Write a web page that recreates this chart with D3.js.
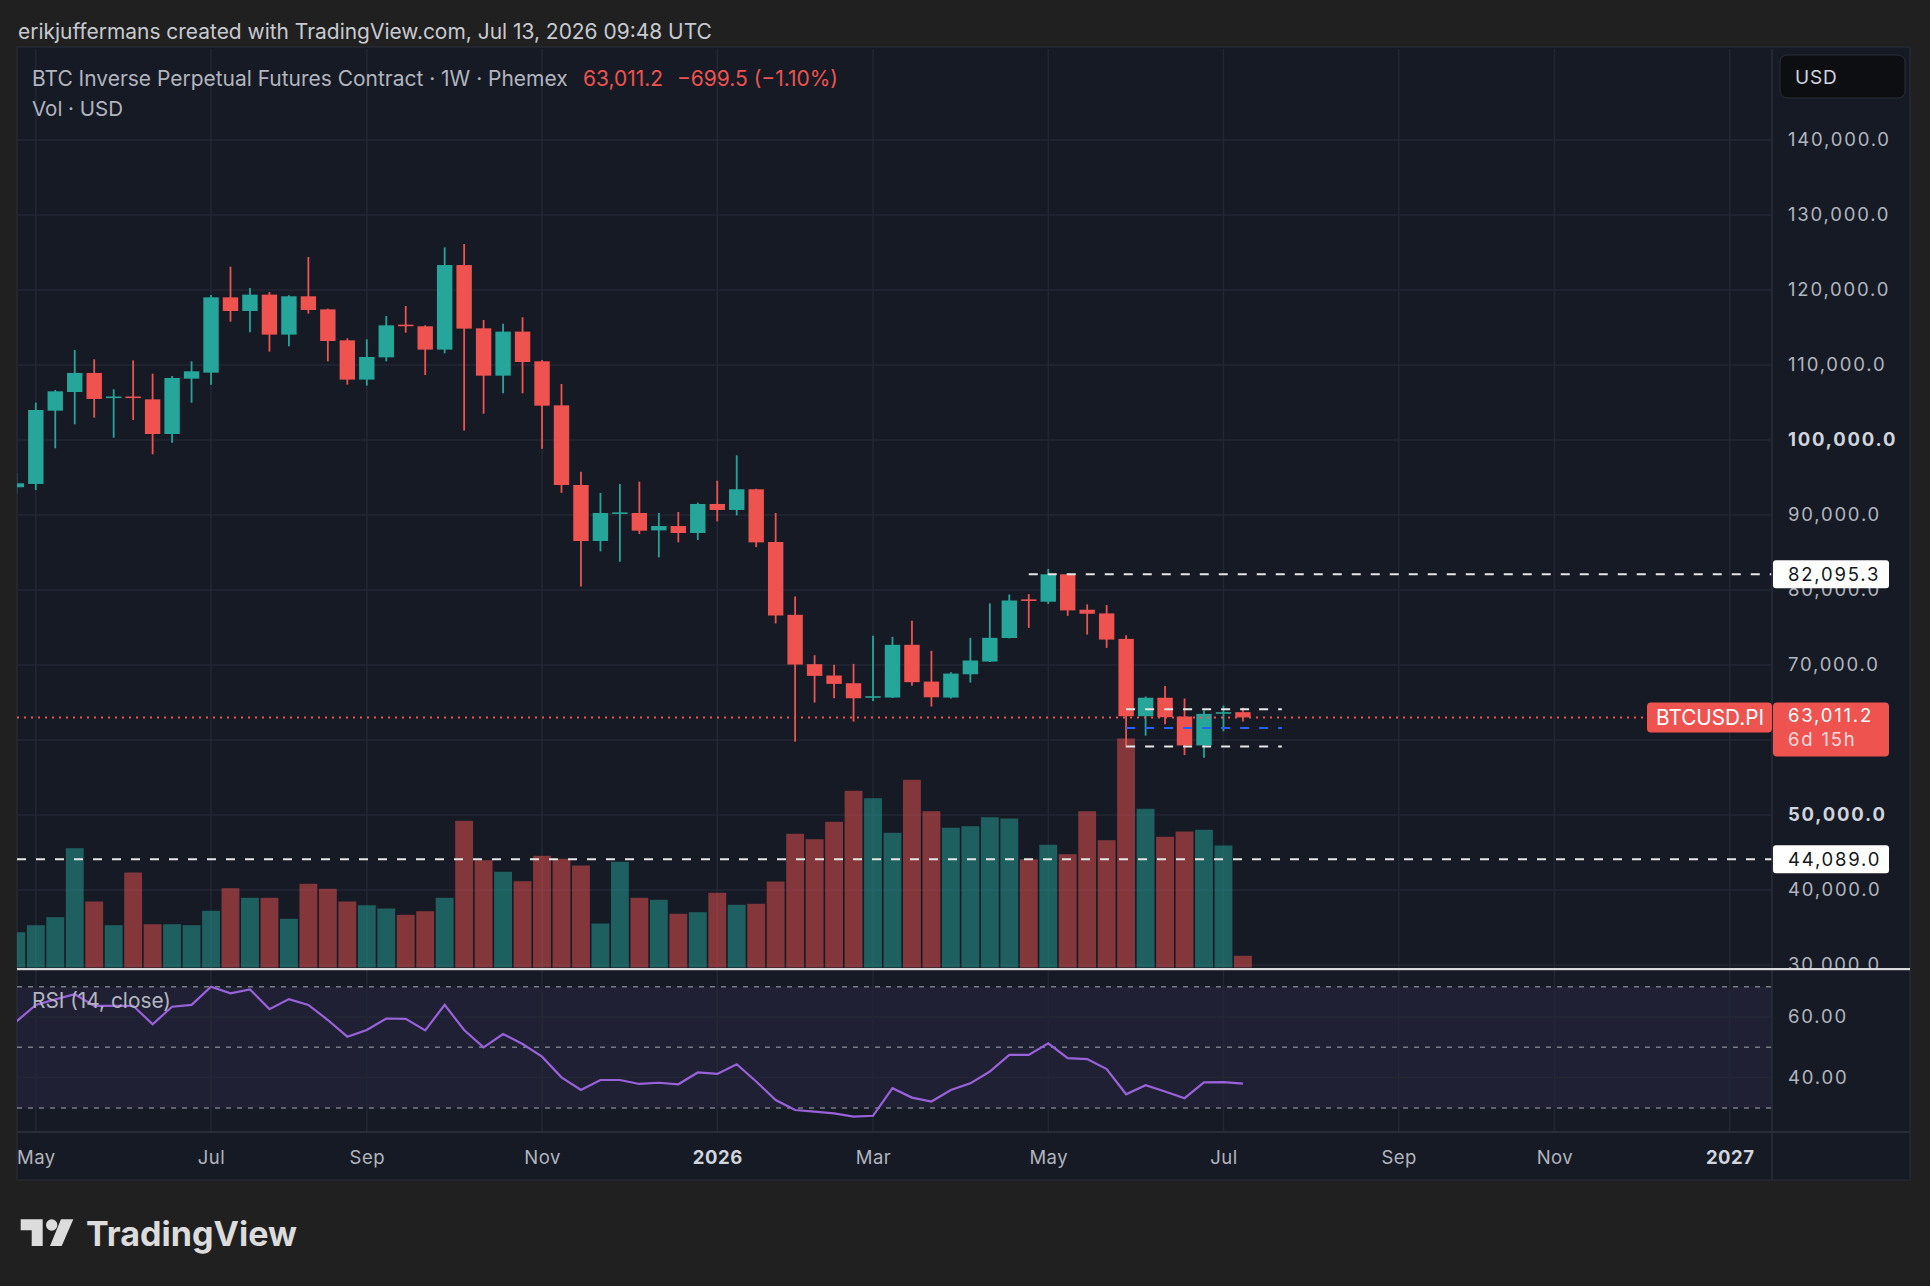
<!DOCTYPE html>
<html lang="en">
<head>
<meta charset="UTF-8">
<script src="https://d3js.org/d3.v7.min.js"></script>
<title>BTCUSD.PI 1W</title>
<style>
  html, body { margin: 0; padding: 0; background: #202020; }
  svg { display: block; }
  text { font-family: Inter, "Noto Sans", sans-serif; }
</style>
</head>
<body>
<script>
const W = 1930, H = 1286;

// weekly bars, Monday open
const weeks = [
  "2025-04-28","2025-05-05","2025-05-12","2025-05-19","2025-05-26","2025-06-02","2025-06-09","2025-06-16",
  "2025-06-23","2025-06-30","2025-07-07","2025-07-14","2025-07-21","2025-07-28","2025-08-04","2025-08-11",
  "2025-08-18","2025-08-25","2025-09-01","2025-09-08","2025-09-15","2025-09-22","2025-09-29","2025-10-06",
  "2025-10-13","2025-10-20","2025-10-27","2025-11-03","2025-11-10","2025-11-17","2025-11-24","2025-12-01",
  "2025-12-08","2025-12-15","2025-12-22","2025-12-29","2026-01-05","2026-01-12","2026-01-19","2026-01-26",
  "2026-02-02","2026-02-09","2026-02-16","2026-02-23","2026-03-02","2026-03-09","2026-03-16","2026-03-23",
  "2026-03-30","2026-04-06","2026-04-13","2026-04-20","2026-04-27","2026-05-04","2026-05-11","2026-05-18",
  "2026-05-25","2026-06-01","2026-06-08","2026-06-15","2026-06-22","2026-06-29","2026-07-06","2026-07-13"
];
const open = [93700,94140,103910,106400,108940,105650,105800,105420,100800,108180,108980,119020,117200,119380,114050,119160,
  117420,113290,108050,111020,115380,115160,112050,123330,114890,108580,114450,110490,104620,94000,86530,90250,
  90270,87950,88530,87600,91470,90670,93430,86400,76690,70110,68600,67570,65750,65660,72690,67790,
  65660,68770,70460,73600,78750,78440,82095,77370,76880,73480,63170,65630,63130,59280,63560,63711];
const high = [95600,104980,106670,112000,110760,106760,110620,108850,108540,110490,119330,123110,120270,119730,119290,124400,
  117510,113560,113420,116530,117870,115290,125690,126130,116000,115510,116360,110670,107470,95780,92940,94140,
  94450,90270,90400,91650,94580,97960,93500,90270,79140,71310,70020,70150,73890,73760,75890,71890,
  69040,73620,78210,79400,79460,82810,82180,78080,77990,73970,65800,67190,65540,63930,64600,64290];
const low = [92800,93330,98890,102090,102980,100310,102670,98090,99650,104980,107380,115780,114360,111780,112490,116850,
  110490,107380,107250,110490,114310,108670,111560,101250,103510,106220,106220,98850,92950,80480,85150,83770,
  87460,84350,86350,86660,89150,89950,85730,75540,59780,64990,65570,62450,65210,65600,67220,64460,
  65530,67660,70400,73550,74960,78130,76560,74060,72280,59020,60580,62100,57990,57640,61160,62460];
const close = [94230,104000,106490,108940,105470,105800,105650,100800,108270,109160,119020,117200,119380,114050,119160,117330,
  113200,108050,111070,115290,115250,112050,123330,114850,108580,114450,110400,104580,94000,86530,90270,90350,
  87910,88530,87600,91470,90670,93430,86350,76600,70060,68550,67480,65570,65840,72690,67710,65700,
  68860,70600,73620,78600,78570,82095,77280,76830,73390,63170,65630,63040,59280,63480,63711,63011.2];
const volume = [353,423,503,1193,660,423,950,433,433,423,567,793,697,697,487,837,
  787,660,623,590,527,563,697,1467,1073,957,863,1117,1087,1020,440,1057,
  697,677,537,553,747,627,637,860,1337,1283,1457,1767,1693,1347,1877,1563,
  1397,1413,1503,1490,1083,1227,1133,1563,1273,2290,1587,1307,1360,1377,1220,117];
const rsi = [58.5,64.0,65.8,67.5,63.7,63.7,63.7,57.6,63.4,64.0,70.0,67.8,69.1,62.6,65.9,64.0,
  59.0,53.5,55.7,59.5,59.4,55.6,64.0,55.7,50.0,54.4,51.1,46.9,40.1,35.9,39.2,39.2,
  37.9,38.3,37.8,41.7,41.2,44.4,38.7,32.6,29.3,28.8,28.2,27.1,27.4,36.5,33.4,32.1,
  35.9,38.1,42.0,47.5,47.5,51.3,46.4,46.1,42.8,34.5,37.5,35.4,33.2,38.4,38.5,38.0];

const priceTicks = [30000,40000,50000,60000,70000,80000,90000,100000,110000,120000,130000,140000];
const boldTicks = [50000, 100000];
const monthTicks = ["2025-05-05","2025-07-07","2025-09-01","2025-11-03","2026-01-05","2026-03-02",
  "2026-05-04","2026-07-06","2026-09-07","2026-11-02","2027-01-04"];
const monthLabels = ["May","Jul","Sep","Nov","2026","Mar","May","Jul","Sep","Nov","2027"];
const rsiTicks = [40, 60];
const rsiLevels = [70, 50, 30];

const lastPrice = 63011.2, change = -699.5, changePct = -1.10;
const resistance = 82095.3, support = 44089.0;
const rangeLevels = [64100, 61600, 59150];   // top, mid (blue), bottom
const rangeStart = "2026-06-01", rangeEnd = "2026-07-27", rayStart = "2026-04-27";

// layout
const L = 17, R = 1772, PR = 1910;
const paneTop = 49, paneBot = 968, rsiTop = 970, rsiBot = 1132, axisBot = 1180;
const up = "#26a69a", down = "#ef5350";
const bg = "#161a25", grid = "#232734", txt = "#b2b5be";
const axFont = 18.5, axSpace = 1.8;

const parse = d3.utcParse("%Y-%m-%d");
const bars = weeks.map((w, i) => ({
  date: parse(w), o: open[i], h: high[i], l: low[i], c: close[i], v: volume[i], r: rsi[i]
}));

const step = 19.47;
const x = d3.scaleUtc()
    .domain([parse("2025-05-05"), parse("2027-01-04")])
    .range([35.8, 35.8 + 87 * step]);
const y = d3.scaleLinear().domain([30000, 140000]).range([965, 140]);
const yv = d3.scaleLinear().domain([0, 2290]).range([967.5, 738.5]);
const yr = d3.scaleLinear().domain([30, 70]).range([1107.9, 986.7]);

const svg = d3.select("body").append("svg").attr("width", W).attr("height", H);

const defs = svg.append("defs");
defs.append("clipPath").attr("id", "pane").append("rect")
    .attr("x", L).attr("y", paneTop).attr("width", R - L).attr("height", paneBot - paneTop);
defs.append("clipPath").attr("id", "rpane").append("rect")
    .attr("x", L).attr("y", rsiTop).attr("width", R - L).attr("height", rsiBot - rsiTop);
defs.append("clipPath").attr("id", "paxis").append("rect")
    .attr("x", R).attr("y", paneTop).attr("width", PR - R).attr("height", paneBot - paneTop);

svg.append("rect").attr("width", W).attr("height", H).attr("fill", "#202020");

function fit(sel, w) {
  const n = sel.node(), cur = n.getComputedTextLength();
  sel.attr("font-size", parseFloat(sel.attr("font-size")) * w / cur);
  return sel;
}
fit(svg.append("text").attr("x", 18).attr("y", 39).attr("font-size", 20).attr("fill", "#c8cad0")
    .text("erikjuffermans created with TradingView.com, Jul 13, 2026 09:48 UTC"), 694);

// chart panel
svg.append("rect").attr("x", L).attr("y", paneTop - 2).attr("width", PR - L).attr("height", axisBot - paneTop + 2)
    .attr("fill", bg).attr("stroke", "#2a2e39");

// rsi band
svg.append("rect").attr("x", L).attr("width", R - L)
    .attr("y", yr(70)).attr("height", yr(30) - yr(70))
    .attr("fill", "rgba(126,87,194,0.1)");

// grid
const g = svg.append("g");
g.selectAll(".hg").data(priceTicks).join("line")
    .attr("x1", L).attr("x2", R).attr("y1", d => y(d)).attr("y2", d => y(d))
    .attr("stroke", grid).attr("stroke-width", 1.5);
g.selectAll(".rg").data(rsiTicks).join("line")
    .attr("x1", L).attr("x2", R).attr("y1", d => yr(d)).attr("y2", d => yr(d))
    .attr("stroke", grid).attr("stroke-width", 1.5);
g.selectAll(".vg").data(monthTicks).join("line")
    .attr("x1", d => x(parse(d))).attr("x2", d => x(parse(d)))
    .attr("y1", paneTop).attr("y2", rsiBot)
    .attr("stroke", grid).attr("stroke-width", 1.5);

// volume
const pane = svg.append("g").attr("clip-path", "url(#pane)");
pane.selectAll(".vol").data(bars).join("rect")
    .attr("x", d => x(d.date) - (step - 1.6) / 2).attr("width", step - 1.6)
    .attr("y", d => yv(d.v)).attr("height", d => yv(0) - yv(d.v))
    .attr("fill", d => d.c >= d.o ? up : down).attr("fill-opacity", 0.5);

// support line
pane.append("line").attr("x1", L).attr("x2", R).attr("y1", y(support)).attr("y2", y(support))
    .attr("stroke", "#e6e6e6").attr("stroke-width", 2).attr("stroke-dasharray", "9,10");

// candles
const cg = pane.selectAll(".c").data(bars).join("g")
    .attr("fill", d => d.c >= d.o ? up : down).attr("stroke", d => d.c >= d.o ? up : down);
cg.append("line").attr("x1", d => x(d.date)).attr("x2", d => x(d.date))
    .attr("y1", d => y(d.h)).attr("y2", d => y(d.l)).attr("stroke-width", 1.8);
const bw = 15.4;
cg.append("rect").attr("x", d => x(d.date) - bw / 2).attr("width", bw)
    .attr("y", d => y(Math.max(d.o, d.c)))
    .attr("height", d => Math.max(1.6, Math.abs(y(d.o) - y(d.c))))
    .attr("stroke", "none");

// resistance ray
pane.append("line").attr("x1", x(parse(rayStart))).attr("x2", R)
    .attr("y1", y(resistance)).attr("y2", y(resistance))
    .attr("stroke", "#e6e6e6").attr("stroke-width", 2).attr("stroke-dasharray", "9,10");

// range box
pane.selectAll(".rng").data(rangeLevels).join("line")
    .attr("x1", x(parse(rangeStart))).attr("x2", x(parse(rangeEnd)))
    .attr("y1", d => y(d)).attr("y2", d => y(d))
    .attr("stroke", (d, i) => i === 1 ? "#2962ff" : "#e6e6e6")
    .attr("stroke-width", 2).attr("stroke-dasharray", "9,10");

// last price line
pane.append("line").attr("x1", L).attr("x2", R).attr("y1", y(lastPrice)).attr("y2", y(lastPrice))
    .attr("stroke", down).attr("stroke-width", 2).attr("stroke-dasharray", "2,5");

// rsi
const rp = svg.append("g").attr("clip-path", "url(#rpane)");
rp.selectAll(".lvl").data(rsiLevels).join("line")
    .attr("x1", L).attr("x2", R).attr("y1", d => yr(d)).attr("y2", d => yr(d))
    .attr("stroke", "#787b86").attr("stroke-width", 1.5).attr("stroke-dasharray", "5,6");
rp.append("path").datum(bars)
    .attr("d", d3.line().x(d => x(d.date)).y(d => yr(d.r)))
    .attr("fill", "none").attr("stroke", "#9a62da").attr("stroke-width", 2.2);

// separators
svg.append("line").attr("x1", R).attr("x2", R).attr("y1", paneTop).attr("y2", axisBot)
    .attr("stroke", "#2a2e39").attr("stroke-width", 1.5);
svg.append("line").attr("x1", L).attr("x2", PR).attr("y1", rsiBot).attr("y2", rsiBot)
    .attr("stroke", "#2a2e39").attr("stroke-width", 2);
svg.append("rect").attr("x", L).attr("y", paneBot).attr("width", PR - L).attr("height", 2.2)
    .attr("fill", "#d8d9dd");

// price axis (the label hidden behind the last-price tag is dropped, as on the chart)
const tagTop = y(lastPrice) - 15, tagBot = y(lastPrice) + 39;
const pa = svg.append("g").attr("clip-path", "url(#paxis)")
    .append("g").attr("transform", `translate(${R},0)`)
    .call(d3.axisRight(y).tickValues(priceTicks).tickFormat(d3.format(",.1f")).tickSize(0).tickPadding(16));
pa.select(".domain").remove();
pa.selectAll(".tick").filter(d => y(d) > tagTop - 6 && y(d) < tagBot + 6).remove();
pa.selectAll("text")
    .attr("font-family", "Inter, sans-serif").attr("font-size", axFont).attr("letter-spacing", axSpace)
    .attr("fill", d => boldTicks.includes(d) ? "#d1d4dc" : txt)
    .attr("font-weight", d => boldTicks.includes(d) ? 700 : 400);

// rsi axis
const ra = svg.append("g").attr("transform", `translate(${R},0)`)
    .call(d3.axisRight(yr).tickValues(rsiTicks).tickFormat(d3.format(".2f")).tickSize(0).tickPadding(16));
ra.select(".domain").remove();
ra.selectAll("text").attr("font-family", "Inter, sans-serif").attr("font-size", axFont)
    .attr("letter-spacing", axSpace).attr("fill", txt);

// time axis
const ta = svg.append("g").attr("transform", `translate(0,${rsiBot})`)
    .call(d3.axisBottom(x).tickValues(monthTicks.map(parse))
      .tickFormat((d, i) => monthLabels[i]).tickSize(0).tickPadding(19));
ta.select(".domain").remove();
ta.selectAll("text").attr("font-family", "Inter, sans-serif").attr("font-size", 18.5)
    .attr("letter-spacing", 0.5)
    .attr("fill", (d, i) => /^\d/.test(monthLabels[i]) ? "#d1d4dc" : txt)
    .attr("font-weight", (d, i) => /^\d/.test(monthLabels[i]) ? 700 : 400);

// legends
fit(svg.append("text").attr("x", 32).attr("y", 86).attr("font-size", 18).attr("fill", txt)
    .text("BTC Inverse Perpetual Futures Contract · 1W · Phemex"), 536);
const fmt = d3.format(",.1f");
fit(svg.append("text").attr("x", 583).attr("y", 86).attr("font-size", 18).attr("fill", down)
    .text(fmt(lastPrice)), 80);
fit(svg.append("text").attr("x", 677).attr("y", 86).attr("font-size", 18).attr("fill", down)
    .text(`\u2212${fmt(-change)} (\u2212${(-changePct).toFixed(2)}%)`), 161);
fit(svg.append("text").attr("x", 32).attr("y", 116).attr("font-size", 18).attr("fill", txt)
    .text("Vol · USD"), 91);
fit(svg.append("text").attr("x", 32).attr("y", 1008).attr("font-size", 18).attr("fill", txt)
    .text("RSI (14, close)"), 139);

// price labels on axis
function tag(price, fill, color, label) {
  const cy = y(price);
  svg.append("rect").attr("x", R + 1).attr("y", cy - 14).attr("width", 116).attr("height", 28)
      .attr("rx", 3).attr("fill", fill);
  svg.append("text").attr("x", R + 16).attr("y", cy).attr("dy", "0.36em")
      .attr("font-size", axFont).attr("letter-spacing", axSpace).attr("fill", color).text(label);
}
tag(resistance, "#ffffff", "#131722", fmt(resistance));
tag(support, "#ffffff", "#131722", fmt(support));

const ly = y(lastPrice);
svg.append("rect").attr("x", R + 1).attr("y", tagTop).attr("width", 116).attr("height", tagBot - tagTop)
    .attr("rx", 4).attr("fill", down);
svg.append("text").attr("x", R + 16).attr("y", ly - 2).attr("dy", "0.36em")
    .attr("font-size", axFont).attr("letter-spacing", axSpace).attr("fill", "#ffffff").text(fmt(lastPrice));
svg.append("text").attr("x", R + 16).attr("y", ly + 22).attr("dy", "0.36em")
    .attr("font-size", axFont).attr("letter-spacing", axSpace).attr("fill", "rgba(255,255,255,0.8)").text("6d 15h");
svg.append("rect").attr("x", 1647).attr("y", ly - 15).attr("width", R - 1647).attr("height", 30)
    .attr("rx", 4).attr("fill", down);
fit(svg.append("text").attr("x", 1656).attr("y", ly).attr("dy", "0.36em").attr("font-size", 18)
    .attr("fill", "#ffffff").text("BTCUSD.PI"), 108);

// currency button
svg.append("rect").attr("x", 1780).attr("y", 55).attr("width", 125).attr("height", 43).attr("rx", 7)
    .attr("fill", "#0d0e12").attr("stroke", "#2a2e39");
svg.append("text").attr("x", 1795).attr("y", 77).attr("dy", "0.36em").attr("font-size", 19)
    .attr("letter-spacing", 0.8).attr("fill", "#d1d4dc").text("USD");

// logo
const logo = svg.append("g").attr("fill", "#dcdcdc");
logo.append("path").attr("d", "M20.7,1219.3H42.7V1246H31.7V1230.3H20.7Z");
logo.append("circle").attr("cx", 51.7).attr("cy", 1225).attr("r", 5.7);
logo.append("path").attr("d", "M61,1219.3H73.3L61.7,1246H50Z");
fit(logo.append("text").attr("x", 86).attr("y", 1246).attr("font-size", 36).attr("font-weight", 700)
    .text("TradingView"), 211);
</script>
</body>
</html>
